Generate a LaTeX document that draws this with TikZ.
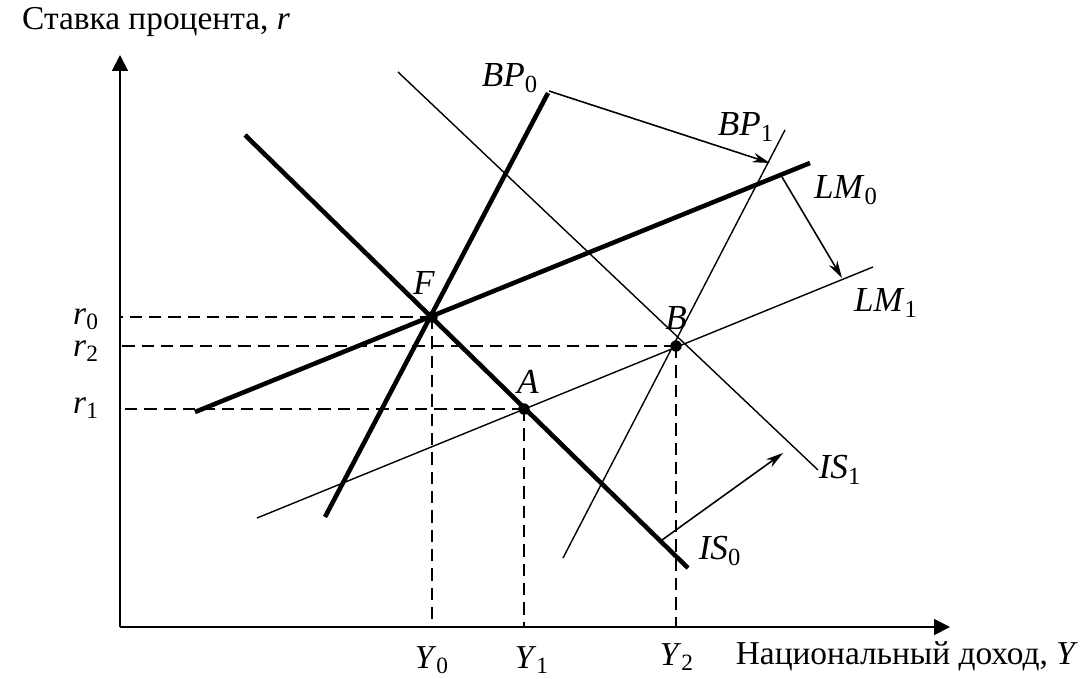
\documentclass[tikz,border=0pt]{standalone}
\usepackage{fontspec}
\setmainfont{Liberation Serif}
\usetikzlibrary{arrows.meta}

\begin{document}
\begin{tikzpicture}[scale=2,font=\fontsize{19}{22}\selectfont]
\tikzset{pt/.style={circle,fill,inner sep=0pt,minimum size=6.5pt},
  heavy/.style={line width=2.6pt},
  light/.style={line width=0.8pt},
  guide/.style={line width=0.7pt,dash pattern=on 7pt off 4pt},
  axis/.style={line width=1pt,-{Triangle[length=9pt,width=9pt]}},
  shiftarrow/.style={line width=0.9pt,-{Stealth[length=10pt,width=5.5pt]}},
  curvelab/.style={font=\fontsize{20}{24}\selectfont},
  tick/.style={inner sep=0.5pt}}
\useasboundingbox (0,0) rectangle (10.84,6.78);

% axes
\coordinate (O) at (1.20,0.51);
\coordinate (ytop) at (1.20,6.23);
\coordinate (xend) at (9.50,0.51);
\draw[axis] (O) -- (ytop);
\draw[axis] (O) -- (xend);
\node[anchor=west] (rlab) at (0.16,6.56) {Ставка процента, \textit{r}};
\node[anchor=east] (ylab) at (10.84,0.22) {Национальный доход, \textit{Y}};

% equilibrium points
\coordinate (F) at (4.32,3.61);
\coordinate (A) at (5.24,2.69);
\coordinate (B) at (6.76,3.32);

% curve ends
\coordinate (is0a) at (2.45,5.43);  \coordinate (is0b) at (6.88,1.10);
\coordinate (is1a) at (3.98,6.06);  \coordinate (is1b) at (8.18,2.08);
\coordinate (bp0a) at (3.25,1.61);  \coordinate (bp0b) at (5.48,5.85);
\coordinate (bp1a) at (5.63,1.20);  \coordinate (bp1b) at (7.85,5.48);
\coordinate (lm0a) at (1.95,2.66);  \coordinate (lm0b) at (8.10,5.15);
\coordinate (lm1a) at (2.57,1.60);  \coordinate (lm1b) at (8.73,4.11);

% dashed guides
\draw[guide] (F) -- (F -| O);
\draw[guide] (B) -- (B -| O);
\draw[guide] (A) -- (A -| O);
\draw[guide] (F) -- (F |- O);
\draw[guide] (A) -- (A |- O);
\draw[guide] (B) -- (B |- O);

\draw[light] (is1a) -- (is1b);
\draw[light] (bp1a) -- (bp1b);
\draw[light] (lm1a) -- (lm1b);
\draw[heavy] (is0a) -- (is0b);
\draw[heavy] (bp0a) -- (bp0b);
\draw[heavy] (lm0a) -- (lm0b);

% shifts
\coordinate (bpfrom) at (5.49,5.87); \coordinate (bpto) at (7.70,5.15);
\coordinate (lmfrom) at (7.82,5.01); \coordinate (lmto) at (8.42,4.00);
\coordinate (isfrom) at (6.62,1.38); \coordinate (isto) at (7.83,2.25);
\draw[shiftarrow] (bpfrom) -- (bpto);
\draw[shiftarrow] (lmfrom) -- (lmto);
\draw[shiftarrow] (isfrom) -- (isto);

\node[pt] (dF) at (F) {};
\node[pt] (dA) at (A) {};
\node[pt] (dB) at (B) {};
\node[curvelab] (lF) at (4.24,3.95) {\textit{F}};
\node[curvelab] (lA) at (5.28,2.96) {\textit{A}};
\node[curvelab] (lB) at (6.76,3.60) {\textit{B}};

% curve labels
\node[curvelab] (lbp0) at (5.10,6.00) {\textit{BP}\textsubscript{0}};
\node[curvelab] (lbp1) at (7.46,5.51) {\textit{BP}\textsubscript{1}};
\node[curvelab] (llm0) at (8.46,4.88) {\textit{LM}\textsubscript{0}};
\node[curvelab] (llm1) at (8.86,3.75) {\textit{LM}\textsubscript{1}};
\node[curvelab] (lis1) at (8.40,2.08) {\textit{IS}\textsubscript{1}};
\node[curvelab] (lis0) at (7.20,1.27) {\textit{IS}\textsubscript{0}};

% axis values
\node[tick] (r0) at (0.86,3.59) {\textit{r}\textsubscript{0}};
\node[tick] (r2) at (0.86,3.27) {\textit{r}\textsubscript{2}};
\node[tick] (r1) at (0.86,2.70) {\textit{r}\textsubscript{1}};
\node[tick] (y0) at (4.32,0.18) {\textit{Y}\textsubscript{0}};
\node[tick] (y1) at (5.32,0.18) {\textit{Y}\textsubscript{1}};
\node[tick] (y2) at (6.77,0.21) {\textit{Y}\textsubscript{2}};
\end{tikzpicture}
\end{document}
